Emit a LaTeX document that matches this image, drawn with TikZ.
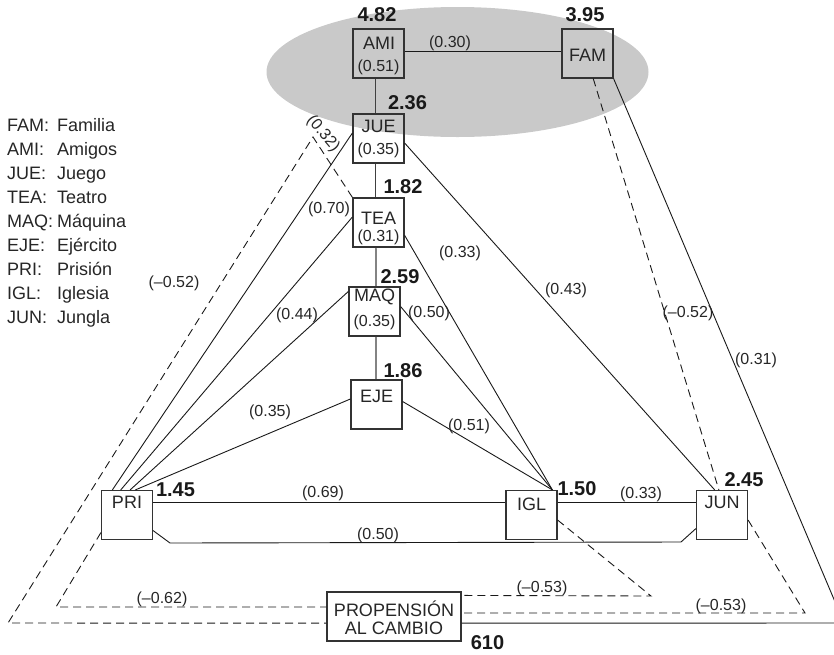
\documentclass[tikz,border=0pt]{standalone}
\usepackage{fontspec}
\setmainfont{Liberation Sans}
\usetikzlibrary{calc}

\begin{document}
\begin{tikzpicture}[x=1pt,y=-1pt,
  box/.style={draw=black!80, line width=1.2pt, minimum width=51pt, minimum height=49pt, inner sep=0pt},
  vname/.style={font=\fontsize{18}{20}\selectfont, text=black!85, inner sep=0pt},
  coef/.style={font=\fontsize{16}{18}\selectfont, text=black!85, inner sep=0pt},
  mean/.style={font=\fontsize{20}{22}\selectfont\bfseries, text=black!90, inner sep=0pt},
  legend/.style={font=\fontsize{18}{20}\selectfont, text=black!85, inner sep=0pt, anchor=base west},
  link/.style={line width=0.9pt, black!90},
  stem/.style={line width=1.2pt, black!75},
  neg/.style={line width=0.9pt, black!90, dash pattern=on 8pt off 5pt}]
\useasboundingbox (0,0) rectangle (834,654);
\clip (0,0) rectangle (834,654);

% shaded cluster behind AMI and FAM
\fill[black!21] (457.5,72) ellipse [x radius=191, y radius=65];

% boxes
\node[box] (ami) at (378.5,53.5) {};
\node[box] (fam) at (587.5,53.5) {};
\node[box] (jue) at (378.5,138.5) {};
\node[box] (tea) at (378.5,222.5) {};
\node[box] (maq) at (374.5,311.5) {};
\node[box] (eje) at (376.5,404.5) {};
\node[box] (pri) at (127,515) {};
\node[box] (igl) at (531.5,515) {};
\node[box] (jun) at (722,515) {};
\node[box, minimum width=134pt] (pc) at (394,616.5) {};

% box texts
\node[vname] (ami-t) at (379,43) {AMI};
\node[coef]  (ami-c) at (378.5,67.5) {(0.51)};
\node[vname] (fam-t) at (587.5,55) {FAM};
\node[vname] (jue-t) at (378.5,126) {JUE};
\node[coef]  (jue-c) at (378.5,150) {(0.35)};
\node[vname] (tea-t) at (378.5,218) {TEA};
\node[coef]  (tea-c) at (378.5,237) {(0.31)};
\node[vname] (maq-t) at (374.5,297) {MAQ};
\node[coef]  (maq-c) at (374.5,322.5) {(0.35)};
\node[vname] (eje-t) at (376.5,396) {EJE};
\node[vname] (pri-t) at (127,502.5) {PRI};
\node[vname] (igl-t) at (531.5,504) {IGL};
\node[vname] (jun-t) at (722,502) {JUN};
\node[vname] (pc-t1) at (394,609) {PROPENSIÓN};
\node[vname] (pc-t2) at (394,628.5) {AL CAMBIO};

% means
\node[mean] (m-ami) at (377,15) {4.82};
\node[mean] (m-fam) at (585,15) {3.95};
\node[mean] (m-jue) at (407.5,103) {2.36};
\node[mean] (m-tea) at (403,186.5) {1.82};
\node[mean] (m-maq) at (400,276.5) {2.59};
\node[mean] (m-eje) at (403,370.5) {1.86};
\node[mean] (m-pri) at (175.5,490) {1.45};
\node[mean] (m-igl) at (577,488.5) {1.50};
\node[mean] (m-jun) at (744,479.5) {2.45};
\node[mean] (m-pc)  at (487.5,642.5) {610};

% legend
\foreach \ab/\full [count=\i from 0] in {FAM/Familia, AMI/Amigos, JUE/Juego, TEA/Teatro, MAQ/Máquina, EJE/Ejército, PRI/Prisión, IGL/Iglesia, JUN/Jungla}{
  \node[legend] (lg-a\i) at (7,131+24*\i) {\ab:};
  \node[legend] (lg-f\i) at (57,131+24*\i) {\full};
}

% bend points of the longer paths
\coordinate (peak) at (313,137);
\coordinate (lo-out) at (8,623);
\coordinate (lo-in) at (56,607);
\coordinate (igl-bend) at (651,596);
\coordinate (jun-bend) at (805,613);
\coordinate (fam-bend) at (844,623);
\coordinate (b-left) at (170,543);
\coordinate (b-right) at (681,542);

% vertical chain
\draw[stem] ($(ami.south west)!.45!(ami.south east)$) -- ($(jue.north west)!.45!(jue.north east)$);
\draw[stem] ($(jue.south west)!.45!(jue.south east)$) -- ($(tea.north west)!.45!(tea.north east)$);
\draw[stem] ($(tea.south west)!.45!(tea.south east)$) -- ($(maq.north west)!.53!(maq.north east)$);
\draw[stem] ($(maq.south west)!.53!(maq.south east)$) -- ($(eje.north west)!.49!(eje.north east)$);

% solid links
\draw[link] ($(ami.north east)!.46!(ami.south east)$) -- ($(fam.north west)!.46!(fam.south west)$);
\draw[link] ($(jue.north west)!.39!(jue.south west)$) -- ($(pri.north west)!.22!(pri.north east)$);
\draw[link] ($(tea.north west)!.39!(tea.south west)$) -- ($(pri.north west)!.38!(pri.north east)$);
\draw[link] ($(maq.north west)!.10!(maq.south west)$) -- ($(pri.north west)!.56!(pri.north east)$);
\draw[link] ($(eje.north west)!.39!(eje.south west)$) -- ($(pri.north west)!.66!(pri.north east)$);
\draw[link] ($(tea.north east)!.755!(tea.south east)$) -- ($(igl.north west)!.9!(igl.north east)$);
\draw[link] ($(maq.north east)!.40!(maq.south east)$) -- ($(igl.north west)!.9!(igl.north east)$);
\draw[link] ($(eje.north east)!.44!(eje.south east)$) -- ($(igl.north west)!.9!(igl.north east)$);
\draw[link] ($(jue.north east)!.59!(jue.south east)$) -- ($(jun.north west)!.36!(jun.north east)$);
\draw[link] ($(pri.north east)!.25!(pri.south east)$) -- ($(igl.north west)!.25!(igl.south west)$);
\draw[link] ($(igl.north east)!.25!(igl.south east)$) -- ($(jun.north west)!.25!(jun.south west)$);
\draw[link] ($(pri.north east)!.81!(pri.south east)$) -- (b-left) -- (b-right) -- ($(jun.north west)!.77!(jun.south west)$);
\draw[link] (fam.south east) -- (fam-bend) -- ($(pc.north east)!.633!(pc.south east)$);

% dashed (negative) links
\draw[neg] (tea.north west) -- (peak) -- (lo-out) -- ($(pc.north west)!.633!(pc.south west)$);
\draw[neg] ($(pri.north west)!.85!(pri.south west)$) -- (lo-in) -- ($(pc.north west)!.31!(pc.south west)$);
\draw[neg] ($(igl.north east)!.6!(igl.south east)$) -- (igl-bend) -- ($(pc.north east)!.08!(pc.south east)$);
\draw[neg] ($(jun.north east)!.6!(jun.south east)$) -- (jun-bend) -- ($(pc.north east)!.43!(pc.south east)$);
\draw[neg] ($(fam.south west)!.61!(fam.south east)$) -- ($(jun.north west)!.44!(jun.north east)$);

% coefficients on the links
\node[coef] (c-amifam) at (450,43) {(0.30)};
\node[coef, rotate=-50] (c-peak) at (323,134) {(0.32)};
\node[coef] (c-teapri) at (329,209) {(0.70)};
\node[coef] (c-left) at (174,283) {(–0.52)};
\node[coef] (c-teaigl) at (460,253) {(0.33)};
\node[coef] (c-juejun) at (566,290) {(0.43)};
\node[coef] (c-famjun) at (688,313) {(–0.52)};
\node[coef] (c-fampc) at (756,360) {(0.31)};
\node[coef] (c-maqpri) at (297,315) {(0.44)};
\node[coef] (c-maqigl) at (429,313) {(0.50)};
\node[coef] (c-ejepri) at (270,412) {(0.35)};
\node[coef] (c-ejeigl) at (469,426) {(0.51)};
\node[coef] (c-priigl) at (323,493) {(0.69)};
\node[coef] (c-prijun) at (378,535) {(0.50)};
\node[coef] (c-igljun) at (641,494) {(0.33)};
\node[coef] (c-pripc) at (162,599) {(–0.62)};
\node[coef] (c-iglpc) at (542,588) {(–0.53)};
\node[coef] (c-junpc) at (721,606) {(–0.53)};
\end{tikzpicture}
\end{document}
